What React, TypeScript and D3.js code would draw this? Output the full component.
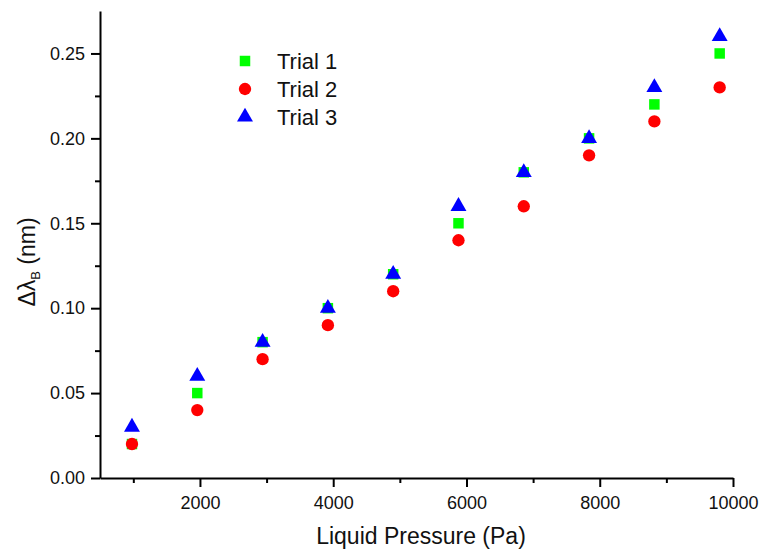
import React, { useEffect, useRef } from 'react';
import * as d3 from 'd3';

const pressures = [980, 1960, 2940, 3920, 4900, 5880, 6860, 7840, 8820, 9800];
const trial1 = [0.02, 0.05, 0.08, 0.10, 0.12, 0.15, 0.18, 0.20, 0.22, 0.25];
const trial2 = [0.02, 0.04, 0.07, 0.09, 0.11, 0.14, 0.16, 0.19, 0.21, 0.23];
const trial3 = [0.03, 0.06, 0.08, 0.10, 0.12, 0.16, 0.18, 0.20, 0.23, 0.26];
const seriesNames = ['Trial 1', 'Trial 2', 'Trial 3'];
const xTicks = [2000, 4000, 6000, 8000, 10000];
const xMinorTicks = [1000, 3000, 5000, 7000, 9000];
const yTicks = [0, 0.05, 0.1, 0.15, 0.2, 0.25];
const yMinorTicks = [0.025, 0.075, 0.125, 0.175, 0.225];

const FONT = 'Liberation Sans, Arial, sans-serif';

const App: React.FC = () => {
  const svgRef = useRef<SVGSVGElement>(null);

  useEffect(() => {
    if (!svgRef.current) return;
    const svg = d3.select(svgRef.current);
    svg.selectAll('*').remove();

    const width = 761;
    const height = 551;
    const margin = { top: 11, right: 28, bottom: 73, left: 100 };

    const x = d3.scaleLinear().domain([500, 10000]).range([margin.left, width - margin.right]);
    const y = d3.scaleLinear().domain([0, 0.275]).range([height - margin.bottom, margin.top]);

    const series = [
      { name: seriesNames[0], values: trial1, color: '#00ff00', symbol: d3.symbolSquare, size: 110 },
      { name: seriesNames[1], values: trial2, color: '#ff0000', symbol: d3.symbolCircle, size: 120 },
      { name: seriesNames[2], values: trial3, color: '#0000ff', symbol: d3.symbolTriangle, size: 110 },
    ];

    // Axes
    const styleAxis = (g: d3.Selection<SVGGElement, unknown, null, undefined>) => {
      g.select('.domain').attr('stroke-width', 2);
      g.selectAll('.tick line').attr('stroke-width', 2);
      g.selectAll('.tick text').attr('font-family', FONT).attr('font-size', 18).attr('fill', '#111');
    };

    const xAxis = svg.append('g').attr('transform', `translate(0,${y(0)})`);
    xAxis.call(d3.axisBottom(x).tickValues(xMinorTicks).tickSize(5).tickSizeOuter(0).tickFormat(() => ''));
    xAxis.call(styleAxis);
    const xMajor = svg.append('g').attr('transform', `translate(0,${y(0)})`);
    xMajor.call(d3.axisBottom(x).tickValues(xTicks).tickSize(9).tickPadding(9).tickFormat(d3.format('d')));
    xMajor.select('.domain').remove();
    xMajor.call(styleAxis);

    const yAxis = svg.append('g').attr('transform', `translate(${x(500)},0)`);
    yAxis.call(d3.axisLeft(y).tickValues(yMinorTicks).tickSize(5).tickSizeOuter(0).tickFormat(() => ''));
    yAxis.call(styleAxis);
    const yMajor = svg.append('g').attr('transform', `translate(${x(500)},0)`);
    yMajor.call(d3.axisLeft(y).tickValues(yTicks).tickSize(9).tickPadding(6).tickFormat(d3.format('.2f')));
    yMajor.select('.domain').remove();
    yMajor.call(styleAxis);

    // Points
    series.forEach(s => {
      svg.append('g')
        .selectAll('path')
        .data(s.values)
        .join('path')
        .attr('transform', (d, i) => `translate(${x(pressures[i])},${y(d)})`)
        .attr('d', d3.symbol().type(s.symbol).size(s.size)())
        .attr('fill', s.color);
    });

    // Legend
    const legend = svg.append('g').attr('transform', 'translate(245,61)');
    series.forEach((s, i) => {
      const row = legend.append('g').attr('transform', `translate(0,${i * 28})`);
      row.append('path')
        .attr('d', d3.symbol().type(s.symbol).size(s.size)())
        .attr('fill', s.color);
      row.append('text')
        .attr('x', 32)
        .attr('dy', '0.36em')
        .attr('font-family', FONT)
        .attr('font-size', 22)
        .attr('fill', '#111')
        .text(s.name);
    });

    // Axis titles
    svg.append('text')
      .attr('x', 421)
      .attr('y', 544)
      .attr('text-anchor', 'middle')
      .attr('font-family', FONT)
      .attr('font-size', 23)
      .attr('fill', '#111')
      .text('Liquid Pressure (Pa)');

    const yTitle = svg.append('text')
      .attr('transform', 'translate(35,262) rotate(-90)')
      .attr('text-anchor', 'middle')
      .attr('font-family', FONT)
      .attr('font-size', 23)
      .attr('fill', '#111');
    yTitle.append('tspan').text('Δλ');
    yTitle.append('tspan').attr('font-size', 13).attr('dy', 5).text('B');
    yTitle.append('tspan').attr('dy', -5).text(' (nm)');
  }, []);

  return (
    <div style={{ position: 'absolute', left: 0, top: 0 }}>
      <svg ref={svgRef} width={761} height={551} style={{ display: 'block', background: '#fff' }} />
    </div>
  );
};

export default App;
